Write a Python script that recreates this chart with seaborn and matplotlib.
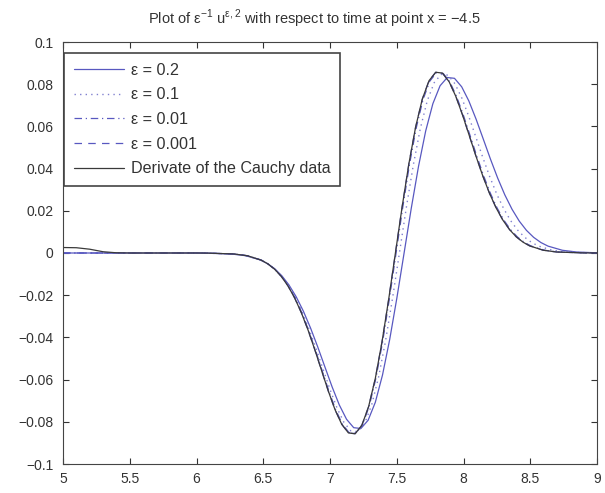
import matplotlib
matplotlib.use("Agg")
import matplotlib.pyplot as plt
import seaborn as sns
import pandas as pd

# ---- data ----
t_eps02 = [5.0, 5.5, 6.0, 6.0455, 6.2612, 6.3690, 6.4768, 6.5307, 6.5846, 6.6385, 6.6924, 6.7464,
           6.8003, 6.8542, 6.9081, 6.9620, 7.0159, 7.0698, 7.1237, 7.1776, 7.2315, 7.2855,
           7.3394, 7.3933, 7.4472, 7.5011, 7.555, 7.6089, 7.6628, 7.7167, 7.7706, 7.8246,
           7.8785, 7.9324, 7.9863, 8.0402, 8.0941, 8.1480, 8.2019, 8.2558, 8.3097, 8.3637,
           8.4176, 8.4715, 8.5254, 8.5793, 8.6332, 8.7410, 8.8488, 9.0]
y_eps02 = [0.0, 0.0, 0.0, -0.00004, -0.00046, -0.00129, -0.00326, -0.00498, -0.00742, -0.01074,
           -0.01512, -0.02071, -0.02753, -0.03554, -0.04451, -0.05402, -0.06346, -0.07203,
           -0.07878, -0.08279, -0.08317, -0.07927, -0.07077, -0.05782, -0.04097, -0.02125, 0.0,
           0.02125, 0.04097, 0.05782, 0.07077, 0.07927, 0.08317, 0.08279, 0.07878, 0.07203,
           0.06346, 0.05402, 0.04451, 0.03554, 0.02753, 0.02071, 0.01512, 0.01074, 0.00742,
           0.00498, 0.00326, 0.00129, 0.00046, 0.00009]

t_eps01 = [5.0, 5.5, 6.0, 6.0632, 6.2713, 6.3753, 6.4794, 6.5314, 6.5835, 6.6355, 6.6875, 6.7396,
           6.7916, 6.8436, 6.8956, 6.9477, 6.9997, 7.0517, 7.1038, 7.1558, 7.2078, 7.2599,
           7.3119, 7.3639, 7.4159, 7.4680, 7.52, 7.5720, 7.6241, 7.6761, 7.7281, 7.7802,
           7.8322, 7.8842, 7.9362, 7.9883, 8.0403, 8.0923, 8.1444, 8.1964, 8.2484, 8.3005,
           8.3525, 8.4045, 8.4565, 8.5086, 8.5606, 8.6647, 8.7687, 8.9768, 9.0]
y_eps01 = [0.0, 0.0, 0.0, -0.00004, -0.00046, -0.00131, -0.00332, -0.00507, -0.00755, -0.01093,
           -0.01539, -0.02108, -0.02802, -0.03618, -0.04531, -0.05499, -0.06460, -0.07332,
           -0.08020, -0.08428, -0.08466, -0.08069, -0.07205, -0.05885, -0.04171, -0.02163, 0.0,
           0.02163, 0.04171, 0.05885, 0.07205, 0.08069, 0.08466, 0.08428, 0.08020, 0.07332,
           0.06460, 0.05499, 0.04531, 0.03618, 0.02802, 0.02108, 0.01539, 0.01093, 0.00755,
           0.00507, 0.00332, 0.00131, 0.00046, 0.00004, 0.00003]

t_eps001 = [5.0, 5.5, 6.0, 6.0818, 6.2837, 6.3847, 6.4856, 6.5361, 6.5865, 6.6370, 6.6875, 6.7380,
            6.7884, 6.8389, 6.8894, 6.9398, 6.9903, 7.0408, 7.0912, 7.1417, 7.1922, 7.2427,
            7.2931, 7.3436, 7.3941, 7.4445, 7.495, 7.5455, 7.5959, 7.6464, 7.6969, 7.7474,
            7.7978, 7.8483, 7.8988, 7.9492, 7.9997, 8.0502, 8.1006, 8.1511, 8.2016, 8.2521,
            8.3025, 8.3530, 8.4035, 8.4539, 8.5044, 8.6053, 8.7063, 8.9082, 9.0]
y_eps001 = [0.0, 0.0, 0.0, -0.00004, -0.00047, -0.00132, -0.00335, -0.00512, -0.00762, -0.01103,
            -0.01554, -0.02128, -0.02829, -0.03652, -0.04574, -0.05550, -0.06521, -0.07401,
            -0.08095, -0.08507, -0.08546, -0.08145, -0.07272, -0.05941, -0.04210, -0.02184, 0.0,
            0.02184, 0.04210, 0.05941, 0.07272, 0.08145, 0.08546, 0.08507, 0.08095, 0.07401,
            0.06521, 0.05550, 0.04574, 0.03652, 0.02829, 0.02128, 0.01554, 0.01103, 0.00762,
            0.00512, 0.00335, 0.00132, 0.00047, 0.00004, 0.00002]

t_eps0001 = [5.0, 5.5, 6.0, 6.0813, 6.2826, 6.3832, 6.4838, 6.5341, 6.5844, 6.6347, 6.6850, 6.7354,
             6.7857, 6.8360, 6.8863, 6.9366, 6.9869, 7.0372, 7.0875, 7.1378, 7.1881, 7.2385,
             7.2888, 7.3391, 7.3894, 7.4397, 7.49, 7.5403, 7.5906, 7.6409, 7.6912, 7.7416,
             7.7919, 7.8422, 7.8925, 7.9428, 7.9931, 8.0434, 8.0937, 8.1440, 8.1943, 8.2447,
             8.2950, 8.3453, 8.3956, 8.4459, 8.4962, 8.5968, 8.6974, 8.8987, 9.0]
y_eps0001 = [0.0, 0.0, 0.0, -0.00004, -0.00047, -0.00132, -0.00336, -0.00513, -0.00764, -0.01106,
             -0.01557, -0.02133, -0.02835, -0.03660, -0.04585, -0.05563, -0.06536, -0.07418,
             -0.08114, -0.08527, -0.08566, -0.08164, -0.07289, -0.05955, -0.04220, -0.02189, 0.0,
             0.02189, 0.04220, 0.05955, 0.07289, 0.08164, 0.08566, 0.08527, 0.08114, 0.07418,
             0.06536, 0.05563, 0.04585, 0.03660, 0.02835, 0.02133, 0.01557, 0.01106, 0.00764,
             0.00513, 0.00336, 0.00132, 0.00047, 0.00004, 0.00002]

t_cauchy = [5.0, 5.1, 5.2, 5.3, 5.4, 5.5, 6.0, 6.0813, 6.2826, 6.3832, 6.4838, 6.5341, 6.5844,
            6.6347, 6.6850, 6.7354, 6.7857, 6.8360, 6.8863, 6.9366, 6.9869, 7.0372, 7.0875,
            7.1378, 7.1881, 7.2385, 7.2888, 7.3391, 7.3894, 7.4397, 7.49, 7.5403, 7.5906,
            7.6409, 7.6912, 7.7416, 7.7919, 7.8422, 7.8925, 7.9428, 7.9931, 8.0434, 8.0937,
            8.1440, 8.1943, 8.2447, 8.2950, 8.3453, 8.3956, 8.4459, 8.4962, 8.5968, 8.6974,
            8.8987, 9.0]
y_cauchy = [0.0026, 0.0025, 0.0018, 0.0006, 0.0001, 0.0, 0.0, -0.00004, -0.00047, -0.00132,
            -0.00336, -0.00513, -0.00764, -0.01106, -0.01557, -0.02133, -0.02835, -0.03660,
            -0.04585, -0.05563, -0.06536, -0.07418, -0.08114, -0.08527, -0.08566, -0.08164,
            -0.07289, -0.05955, -0.04220, -0.02189, 0.0, 0.02189, 0.04220, 0.05955, 0.07289,
            0.08164, 0.08566, 0.08527, 0.08114, 0.07418, 0.06536, 0.05563, 0.04585, 0.03660,
            0.02835, 0.02133, 0.01557, 0.01106, 0.00764, 0.00513, 0.00336, 0.00132, 0.00047,
            0.00004, 0.00002]

labels = ["ε = 0.2", "ε = 0.1", "ε = 0.01", "ε = 0.001", "Derivate of the Cauchy data"]
x_ticks = [5, 5.5, 6, 6.5, 7, 7.5, 8, 8.5, 9]
x_tick_labels = ["5", "5.5", "6", "6.5", "7", "7.5", "8", "8.5", "9"]
y_ticks = [-0.1, -0.08, -0.06, -0.04, -0.02, 0, 0.02, 0.04, 0.06, 0.08, 0.1]
y_tick_labels = ["−0.1", "−0.08", "−0.06", "−0.04", "−0.02", "0", "0.02", "0.04", "0.06", "0.08", "0.1"]

# ---- styling ----
sns.set_style("ticks")
plt.rcParams["font.family"] = ["Liberation Sans", "DejaVu Sans"]
plt.rcParams["mathtext.fontset"] = "custom"
plt.rcParams["mathtext.rm"] = "Liberation Sans"
plt.rcParams["xtick.direction"] = "in"
plt.rcParams["ytick.direction"] = "in"

fig = plt.figure(figsize=(6.05, 4.93), dpi=100)
ax = fig.add_axes([63 / 605, 1 - 464 / 493, (597 - 63) / 605, (464 - 42) / 493])

blue = "#5858c0"
dark = "#3a3a3a"
series = [
    (t_eps02, y_eps02, labels[0], blue, "-", 0.9),
    (t_eps01, y_eps01, labels[1], "#8080d0", (0, (1, 3)), 1.0),
    (t_eps001, y_eps001, labels[2], blue, (0, (6, 3, 1, 3)), 0.9),
    (t_eps0001, y_eps0001, labels[3], blue, (0, (6, 5)), 0.9),
    (t_cauchy, y_cauchy, labels[4], dark, "-", 0.9),
]
for t, y, lab, col, ls, lw in series:
    df = pd.DataFrame({"t": t, "y": y})
    sns.lineplot(data=df, x="t", y="y", ax=ax, color=col, linestyle=ls,
                 linewidth=lw, label=lab, sort=False)

ax.set_xlim(5, 9)
ax.set_ylim(-0.1, 0.1)
ax.set_xticks(x_ticks)
ax.set_xticklabels(x_tick_labels)
ax.set_yticks(y_ticks)
ax.set_yticklabels(y_tick_labels)
ax.set_xlabel("")
ax.set_ylabel("")
ax.tick_params(axis="both", which="both", top=True, right=True, length=4,
               width=0.8, labelsize=10, colors="#333333")
ax.tick_params(axis="x", pad=6)
ax.tick_params(axis="y", pad=7)
for s in ax.spines.values():
    s.set_visible(True)
    s.set_linewidth(0.8)
    s.set_color("#444444")

ax.set_title("Plot of ε$^{\\mathregular{-1}}$ u$^{\\mathregular{ε,2}}$ with respect to time at point x = −4.5",
             fontsize=10.5, color="#333333", pad=13, x=0.47)

leg = ax.legend(loc="upper left", bbox_to_anchor=(0.002, 0.974), borderaxespad=0,
                fontsize=11.6, handlelength=3.1, handletextpad=0.45, labelspacing=0.6,
                fancybox=False, framealpha=1, borderpad=0.6)
leg.get_frame().set_edgecolor("#444444")
leg.get_frame().set_linewidth(1.2)
for txt in leg.get_texts():
    txt.set_color("#333333")

fig.savefig("out.png", dpi=100)
